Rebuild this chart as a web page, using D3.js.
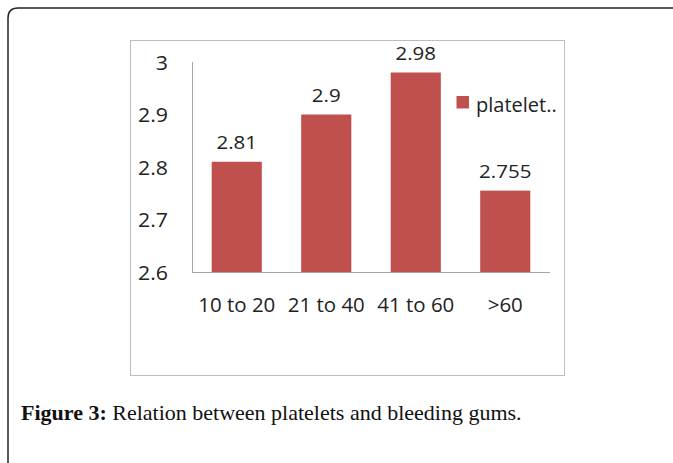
<!DOCTYPE html>
<html>
<head>
<meta charset="utf-8">
<script src="https://cdn.jsdelivr.net/npm/d3@7"></script>
<style>
  body { margin: 0; background: #fff; }
  svg { display: block; }
</style>
</head>
<body>
<svg id="fig" width="673" height="463"></svg>
<script>
// chart data
var categories = ['10 to 20', '21 to 40', '41 to 60', '>60'];
var values = [2.81, 2.9, 2.98, 2.755];
var valueLabels = ['2.81', '2.9', '2.98', '2.755'];
var yTicks = [2.6, 2.7, 2.8, 2.9, 3];
var seriesName = 'platelet..';
var caption = 'Relation between platelets and bleeding gums.';

var svg = d3.select('#fig');
var font = '"Open Sans", Lato, sans-serif';

// outer page frame (rounded top-left corner)
svg.append('path')
  .attr('d', 'M8,463 L8,18 Q8,8 18,8 L673,8')
  .attr('fill', 'none')
  .attr('stroke', '#222')
  .attr('stroke-width', 1.5);

// chart box
svg.append('rect')
  .attr('x', 130.5).attr('y', 40.5)
  .attr('width', 434).attr('height', 335)
  .attr('fill', '#fff')
  .attr('stroke', '#bdbdbd')
  .attr('stroke-width', 1);

var x = d3.scaleBand()
  .domain(categories)
  .range([192, 550])
  .paddingInner(0.44)
  .paddingOuter(0.22);

var y = d3.scaleLinear()
  .domain([2.6, 3])
  .range([272, 62]);

var g = svg.append('g');

// axis lines
g.append('line')
  .attr('x1', 192.5).attr('x2', 192.5)
  .attr('y1', y(3)).attr('y2', y(2.6))
  .attr('stroke', '#a6a6a6');
g.append('line')
  .attr('x1', 192).attr('x2', 550)
  .attr('y1', y(2.6) + 0.5).attr('y2', y(2.6) + 0.5)
  .attr('stroke', '#a6a6a6');

// small helper: text stretched a bit horizontally like the source image
function tf(px, py, sx) { return 'translate(' + px + ',' + py + ') scale(' + sx + ',1)'; }

g.selectAll('text.ytick')
  .data(yTicks)
  .enter().append('text')
    .attr('class', 'ytick')
    .attr('transform', function(d) { return tf(168, y(d) + 7.5, 1.04); })
    .attr('text-anchor', 'end')
    .attr('font-family', font)
    .attr('font-size', 20.5)
    .attr('fill', '#222')
    .text(function(d) { return d === 3 ? '3' : d.toFixed(1); });

// bars
g.selectAll('rect.bar')
  .data(values)
  .enter().append('rect')
    .attr('class', 'bar')
    .attr('x', function(d, i) { return x(categories[i]); })
    .attr('y', function(d) { return y(d); })
    .attr('width', x.bandwidth())
    .attr('height', function(d) { return y(2.6) - y(d); })
    .attr('fill', '#c0504d');

// value labels
g.selectAll('text.val')
  .data(values)
  .enter().append('text')
    .attr('class', 'val')
    .attr('transform', function(d, i) {
      return tf(x(categories[i]) + x.bandwidth() / 2, y(d) - 13, 1.14);
    })
    .attr('text-anchor', 'middle')
    .attr('font-family', font)
    .attr('font-size', 18)
    .attr('fill', '#222')
    .text(function(d, i) { return valueLabels[i]; });

// category labels
g.selectAll('text.cat')
  .data(categories)
  .enter().append('text')
    .attr('class', 'cat')
    .attr('transform', function(d) { return tf(x(d) + x.bandwidth() / 2, 312, 1.05); })
    .attr('text-anchor', 'middle')
    .attr('font-family', font)
    .attr('font-size', 19.5)
    .attr('fill', '#222')
    .text(function(d) { return d; });

// legend
svg.append('rect')
  .attr('x', 456.5).attr('y', 96)
  .attr('width', 12.5).attr('height', 12.5)
  .attr('fill', '#c0504d');
svg.append('text')
  .attr('x', 476).attr('y', 111.5)
  .attr('font-family', font)
  .attr('font-size', 20)
  .attr('fill', '#222')
  .text(seriesName);

// caption
var cap = svg.append('text')
  .attr('x', 21).attr('y', 420)
  .attr('font-family', '"Liberation Serif", "Times New Roman", serif')
  .attr('font-size', 22)
  .attr('fill', '#111');
cap.append('tspan').attr('font-weight', 'bold').text('Figure 3:');
cap.append('tspan').text(' ' + caption);
</script>
</body>
</html>
